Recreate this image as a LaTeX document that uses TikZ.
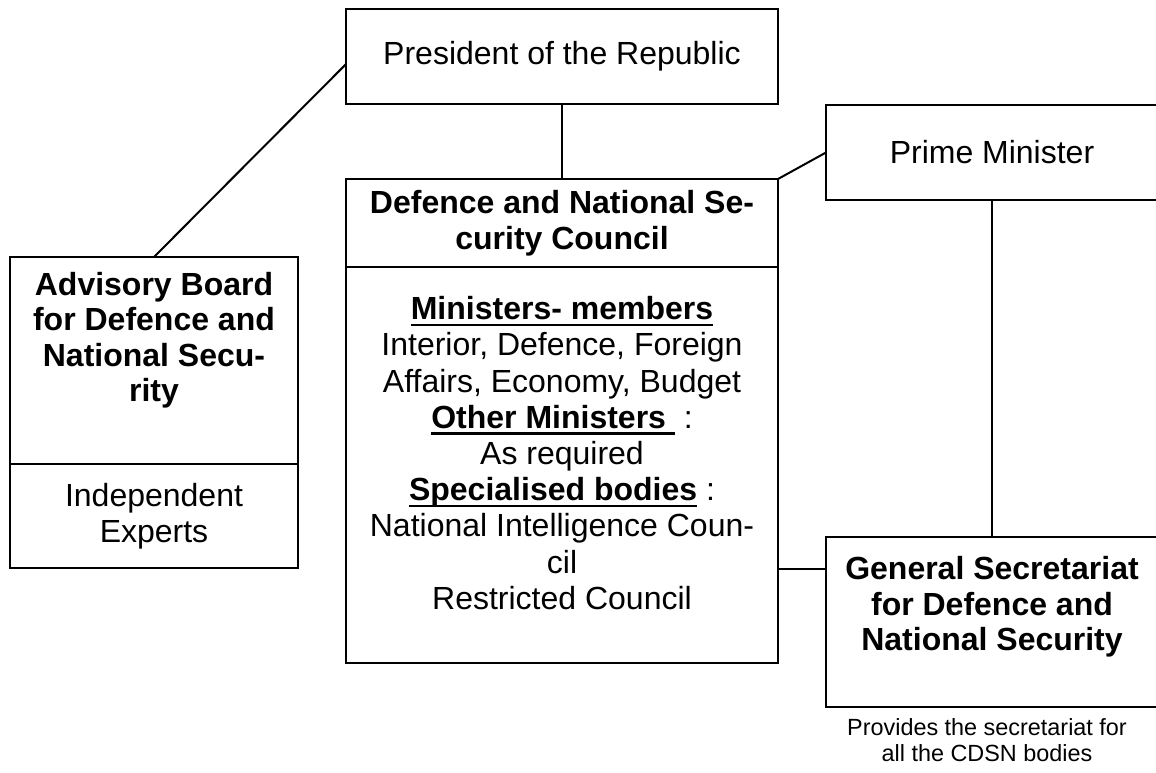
\documentclass[tikz,border=0pt]{standalone}
\usepackage{fontspec}
\setmainfont{Liberation Sans}
\usetikzlibrary{positioning,calc}

% thick word-processor style underline
\newcommand{\undl}[1]{\setbox0\hbox{#1}\rlap{\rule[-6.5pt]{\wd0}{2.6pt}}\box0\relax}

\begin{document}
\begin{tikzpicture}[
      x=1pt, y=-1pt, % picture measured in pixels, y going down
      frame/.style={rectangle, draw, line width=2.4pt, inner sep=0pt, outer sep=0pt, align=center, font=\fontsize{32}{36.2}\selectfont},
      title/.style={frame, font=\fontsize{32}{36.2}\selectfont\bfseries},
      body/.style={align=center, inner sep=0pt, font=\fontsize{32}{36.2}\selectfont},
      link/.style={line width=2pt}
  ]
      \useasboundingbox (0,0) rectangle (1156,773);

      % Nodes - top of the chain
      \node (president) [frame, minimum width=432pt, minimum height=95pt] at (562,56.5) {President of the Republic};
      \node (prime) [frame, minimum width=332pt, minimum height=95pt] at (992,152.5) {Prime Minister};

      % Council: title part and members part
      \node (council) [title, minimum width=432pt, minimum height=88pt] at (562,223) {Defence and National Se-\\curity Council};
      \node (councilbody) [frame, minimum width=432pt, minimum height=396pt, below=0pt of council] {};
      \node (members) [body] at (562,453) {\undl{\textbf{Ministers- members}}\\
        Interior, Defence, Foreign\\
        Affairs, Economy, Budget\\
        \undl{\textbf{Other Ministers\ }}\ :\\
        As required\\
        \undl{\textbf{Specialised bodies}} :\\
        National Intelligence Coun-\\
        cil\\
        Restricted Council};

      % Advisory board
      \node (adviser) [frame, minimum width=288pt, minimum height=207pt] at (154,360.5) {};
      \node (advisertitle) [body, font=\fontsize{32}{35.5}\selectfont\bfseries] at (154,340) {Advisory Board\\for Defence and\\National Secu-\\rity};
      \node (experts) [frame, minimum width=288pt, minimum height=104pt, below=0pt of adviser] {Independent\\Experts};

      % General secretariat
      \node (secretariat) [frame, minimum width=332pt, minimum height=170pt] at (992,622) {};
      \node (secretariattitle) [body, font=\fontsize{32}{35.5}\selectfont\bfseries] at (992,607) {General Secretariat\\for Defence and\\National Security};
      \node (note) [body, font=\fontsize{23.4}{25.5}\selectfont] at (987,740) {Provides the secretariat for\\all the CDSN bodies};

      % Connections, plain lines
      \draw[link] (president) -- (council);
      \draw[link] ($(president.north west)!0.58!(president.south west)$) -- (adviser.north);
      \draw[link] (prime.west) -- (council.north east);
      \draw[link] (prime) -- (secretariat);
      \coordinate (gsin) at ($(secretariat.north west)!0.19!(secretariat.south west)$);
      \draw[link] (councilbody.east |- gsin) -- (gsin);
  \end{tikzpicture}
\end{document}
